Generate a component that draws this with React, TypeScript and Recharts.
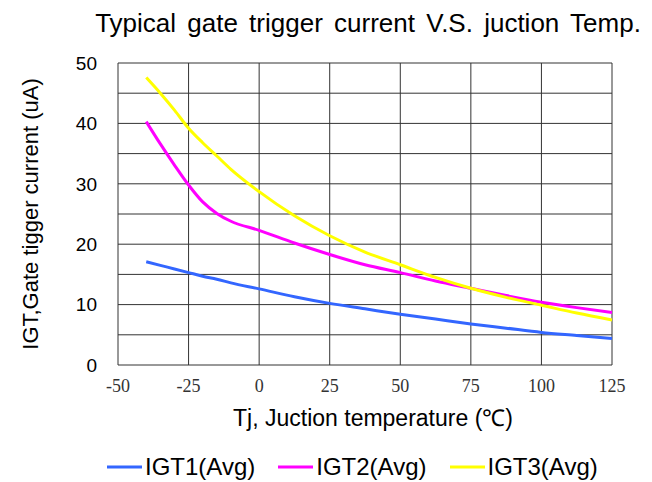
import React from "react";
import { LineChart, Line, XAxis, YAxis, CartesianGrid, Legend } from "recharts";

// Junction temperature (°C) sample points
const temps = [-40, -35, -30, -25, -20, -15, -10, 0, 12.5, 25, 37.5, 50, 62.5, 75, 87.5, 100, 112.5, 125];
const igt1 = [17.1, 16.5, 15.9, 15.3, 14.7, 14.2, 13.6, 12.6, 11.3, 10.2, 9.3, 8.4, 7.6, 6.8, 6.1, 5.4, 4.9, 4.4];
const igt2 = [40.3, 36.6, 33.1, 29.8, 27.0, 25.1, 23.8, 22.3, 20.2, 18.3, 16.6, 15.3, 13.9, 12.7, 11.5, 10.4, 9.5, 8.7];
const igt3 = [47.6, 45.0, 42.2, 39.2, 36.8, 34.6, 32.4, 28.7, 24.7, 21.4, 18.7, 16.6, 14.5, 12.7, 11.2, 9.9, 8.6, 7.45];

const xTicks = [-50, -25, 0, 25, 50, 75, 100, 125];
const yTicks = [0, 10, 20, 30, 40, 50];
const yGrid = [0, 5, 10, 15, 20, 25, 30, 35, 40, 45, 50];

const series = [
  { key: "igt1", name: "IGT1(Avg)", color: "#3366FF" },
  { key: "igt2", name: "IGT2(Avg)", color: "#FF00FF" },
  { key: "igt3", name: "IGT3(Avg)", color: "#FFFF00" },
];

const rows = temps.map((t, i) => ({ t, igt1: igt1[i], igt2: igt2[i], igt3: igt3[i] }));

const SANS = "'Liberation Sans', Arial, sans-serif";
const SERIF = "'Liberation Serif', 'Times New Roman', serif";

function LegendContent(props: any) {
  const payload = props.payload ?? [];
  return (
    <div style={{ display: "flex", height: 30, alignItems: "center", fontFamily: SANS, fontSize: 24 }}>
      {payload.map((p: any) => (
        <div key={p.value} style={{ display: "flex", alignItems: "center", marginRight: 23 }}>
          <svg width={35} height={4} style={{ marginRight: 3 }}>
            <line x1={0} y1={2} x2={35} y2={2} stroke={p.color} strokeWidth={3} />
          </svg>
          <span style={{ color: "#000", lineHeight: "30px" }}>{p.value}</span>
        </div>
      ))}
    </div>
  );
}

export default function App() {
  return (
    <div style={{ position: "absolute", left: 0, top: 0, width: 652, height: 482, background: "#fff" }}>
      <div
        style={{
          position: "absolute",
          left: 68,
          top: 8,
          width: 600,
          textAlign: "center",
          fontFamily: SANS,
          fontSize: 26,
          lineHeight: "30px",
          wordSpacing: 4,
          color: "#000",
        }}
      >
        Typical gate trigger current V.S. juction Temp.
      </div>
      <LineChart width={652} height={482} data={rows} margin={{ top: 63, right: 40, left: 0, bottom: 0 }}>
        <CartesianGrid stroke="#333" strokeWidth={1} verticalValues={xTicks} horizontalValues={yGrid} />
        <XAxis
          type="number"
          dataKey="t"
          domain={[-50, 125]}
          ticks={xTicks}
          interval={0}
          axisLine={false}
          tickLine={false}
          tickMargin={8}
          height={87}
          tick={{ fontFamily: SERIF, fontSize: 18, fill: "#333" }}
          label={() => (
            <text x={373} y={426} textAnchor="middle" fontFamily={SANS} fontSize={23} fill="#000">
              Tj, Juction temperature (℃)
            </text>
          )}
        />
        <YAxis
          type="number"
          domain={[0, 50]}
          ticks={yTicks}
          interval={0}
          axisLine={false}
          tickLine={false}
          tickMargin={15}
          width={118}
          tick={{ fontFamily: SANS, fontSize: 19, fill: "#000" }}
          label={() => (
            <text
              x={30}
              y={214}
              transform="rotate(-90 30 214)"
              textAnchor="middle"
              dominantBaseline="central"
              fontFamily={SANS}
              fontSize={22}
              fill="#000"
            >
              IGT,Gate tigger current (uA)
            </text>
          )}
        />
        <Legend
          verticalAlign="bottom"
          content={<LegendContent />}
          wrapperStyle={{ position: "absolute", left: 107, top: 452, width: 540, height: 30 }}
        />
        {series.map((s) => (
          <Line
            key={s.key}
            type="monotone"
            dataKey={s.key}
            name={s.name}
            stroke={s.color}
            strokeWidth={3}
            dot={false}
            isAnimationActive={false}
          />
        ))}
      </LineChart>
    </div>
  );
}
